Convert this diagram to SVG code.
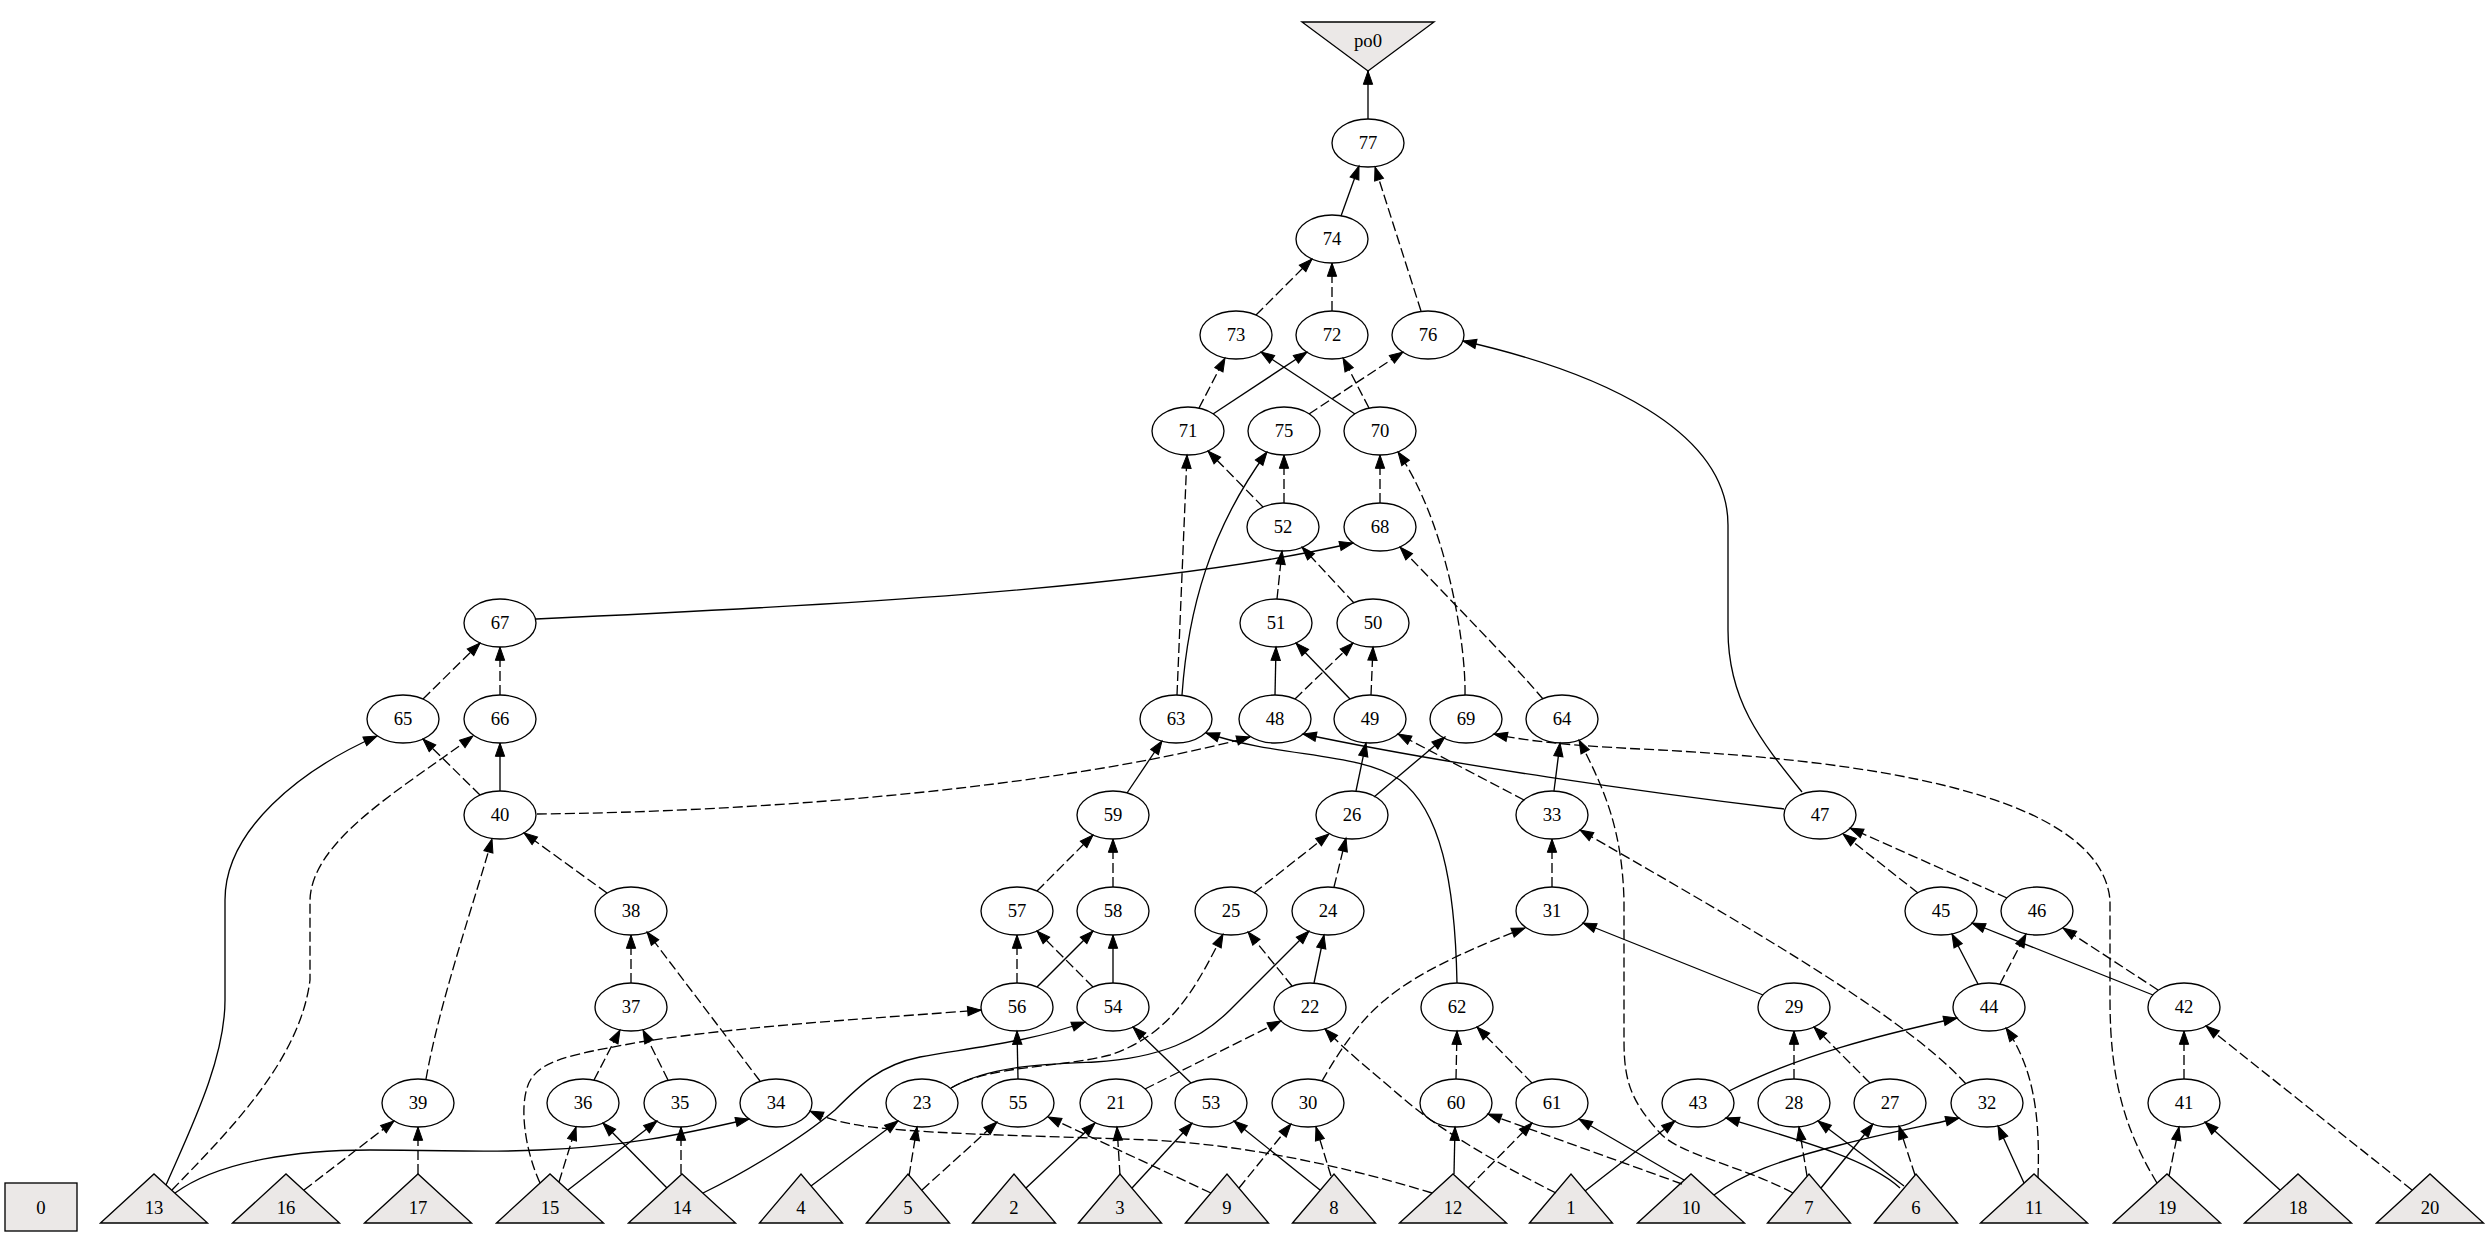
<svg xmlns="http://www.w3.org/2000/svg" width="2490" height="1245" viewBox="0 0 2490 1245">
<style>
.nd ellipse{fill:#fff;stroke:#000;stroke-width:1.33}
.pi polygon,.po polygon,.cz rect{fill:#ebe8e7;stroke:#000;stroke-width:1.33}
text{font-family:"Liberation Serif","Times New Roman",serif;font-size:18.67px;text-anchor:middle;fill:#000}
#edges path{fill:none;stroke:#000;stroke-width:1.33;marker-end:url(#ah)}
#edges path.d{stroke-dasharray:10,4}
</style>
<defs>
<marker id="ah" markerUnits="userSpaceOnUse" markerWidth="16" markerHeight="12" viewBox="-1 -1 16 12" refX="13.33" refY="4.67" orient="auto">
<path d="M0,0 L13.33,4.67 L0,9.33 z" fill="#000" stroke="#000" stroke-width="1"/>
</marker>
</defs>
<rect width="2490" height="1245" fill="#fff"/>
<g id="nodes">
<g id="n_po0" class="po"><polygon points="1302,22 1434,22 1368,71"/><text x="1368" y="47">po0</text></g>
<g id="n_0" class="cz"><rect x="5" y="1183" width="72" height="48"/><text x="41" y="1213.5">0</text></g>
<g id="n77" class="nd"><ellipse cx="1368" cy="143" rx="36" ry="24"/><text x="1368" y="149.3">77</text></g>
<g id="n74" class="nd"><ellipse cx="1332" cy="239" rx="36" ry="24"/><text x="1332" y="245.3">74</text></g>
<g id="n73" class="nd"><ellipse cx="1236" cy="335" rx="36" ry="24"/><text x="1236" y="341.3">73</text></g>
<g id="n72" class="nd"><ellipse cx="1332" cy="335" rx="36" ry="24"/><text x="1332" y="341.3">72</text></g>
<g id="n76" class="nd"><ellipse cx="1428" cy="335" rx="36" ry="24"/><text x="1428" y="341.3">76</text></g>
<g id="n71" class="nd"><ellipse cx="1188" cy="431" rx="36" ry="24"/><text x="1188" y="437.3">71</text></g>
<g id="n75" class="nd"><ellipse cx="1284" cy="431" rx="36" ry="24"/><text x="1284" y="437.3">75</text></g>
<g id="n70" class="nd"><ellipse cx="1380" cy="431" rx="36" ry="24"/><text x="1380" y="437.3">70</text></g>
<g id="n52" class="nd"><ellipse cx="1283" cy="527" rx="36" ry="24"/><text x="1283" y="533.3">52</text></g>
<g id="n68" class="nd"><ellipse cx="1380" cy="527" rx="36" ry="24"/><text x="1380" y="533.3">68</text></g>
<g id="n67" class="nd"><ellipse cx="500" cy="623" rx="36" ry="24"/><text x="500" y="629.3">67</text></g>
<g id="n51" class="nd"><ellipse cx="1276" cy="623" rx="36" ry="24"/><text x="1276" y="629.3">51</text></g>
<g id="n50" class="nd"><ellipse cx="1373" cy="623" rx="36" ry="24"/><text x="1373" y="629.3">50</text></g>
<g id="n65" class="nd"><ellipse cx="403" cy="719" rx="36" ry="24"/><text x="403" y="725.3">65</text></g>
<g id="n66" class="nd"><ellipse cx="500" cy="719" rx="36" ry="24"/><text x="500" y="725.3">66</text></g>
<g id="n63" class="nd"><ellipse cx="1176" cy="719" rx="36" ry="24"/><text x="1176" y="725.3">63</text></g>
<g id="n48" class="nd"><ellipse cx="1275" cy="719" rx="36" ry="24"/><text x="1275" y="725.3">48</text></g>
<g id="n49" class="nd"><ellipse cx="1370" cy="719" rx="36" ry="24"/><text x="1370" y="725.3">49</text></g>
<g id="n69" class="nd"><ellipse cx="1466" cy="719" rx="36" ry="24"/><text x="1466" y="725.3">69</text></g>
<g id="n64" class="nd"><ellipse cx="1562" cy="719" rx="36" ry="24"/><text x="1562" y="725.3">64</text></g>
<g id="n40" class="nd"><ellipse cx="500" cy="815" rx="36" ry="24"/><text x="500" y="821.3">40</text></g>
<g id="n59" class="nd"><ellipse cx="1113" cy="815" rx="36" ry="24"/><text x="1113" y="821.3">59</text></g>
<g id="n26" class="nd"><ellipse cx="1352" cy="815" rx="36" ry="24"/><text x="1352" y="821.3">26</text></g>
<g id="n33" class="nd"><ellipse cx="1552" cy="815" rx="36" ry="24"/><text x="1552" y="821.3">33</text></g>
<g id="n47" class="nd"><ellipse cx="1820" cy="815" rx="36" ry="24"/><text x="1820" y="821.3">47</text></g>
<g id="n38" class="nd"><ellipse cx="631" cy="911" rx="36" ry="24"/><text x="631" y="917.3">38</text></g>
<g id="n57" class="nd"><ellipse cx="1017" cy="911" rx="36" ry="24"/><text x="1017" y="917.3">57</text></g>
<g id="n58" class="nd"><ellipse cx="1113" cy="911" rx="36" ry="24"/><text x="1113" y="917.3">58</text></g>
<g id="n25" class="nd"><ellipse cx="1231" cy="911" rx="36" ry="24"/><text x="1231" y="917.3">25</text></g>
<g id="n24" class="nd"><ellipse cx="1328" cy="911" rx="36" ry="24"/><text x="1328" y="917.3">24</text></g>
<g id="n31" class="nd"><ellipse cx="1552" cy="911" rx="36" ry="24"/><text x="1552" y="917.3">31</text></g>
<g id="n45" class="nd"><ellipse cx="1941" cy="911" rx="36" ry="24"/><text x="1941" y="917.3">45</text></g>
<g id="n46" class="nd"><ellipse cx="2037" cy="911" rx="36" ry="24"/><text x="2037" y="917.3">46</text></g>
<g id="n37" class="nd"><ellipse cx="631" cy="1007" rx="36" ry="24"/><text x="631" y="1013.3">37</text></g>
<g id="n56" class="nd"><ellipse cx="1017" cy="1007" rx="36" ry="24"/><text x="1017" y="1013.3">56</text></g>
<g id="n54" class="nd"><ellipse cx="1113" cy="1007" rx="36" ry="24"/><text x="1113" y="1013.3">54</text></g>
<g id="n22" class="nd"><ellipse cx="1310" cy="1007" rx="36" ry="24"/><text x="1310" y="1013.3">22</text></g>
<g id="n62" class="nd"><ellipse cx="1457" cy="1007" rx="36" ry="24"/><text x="1457" y="1013.3">62</text></g>
<g id="n29" class="nd"><ellipse cx="1794" cy="1007" rx="36" ry="24"/><text x="1794" y="1013.3">29</text></g>
<g id="n44" class="nd"><ellipse cx="1989" cy="1007" rx="36" ry="24"/><text x="1989" y="1013.3">44</text></g>
<g id="n42" class="nd"><ellipse cx="2184" cy="1007" rx="36" ry="24"/><text x="2184" y="1013.3">42</text></g>
<g id="n39" class="nd"><ellipse cx="418" cy="1103" rx="36" ry="24"/><text x="418" y="1109.3">39</text></g>
<g id="n36" class="nd"><ellipse cx="583" cy="1103" rx="36" ry="24"/><text x="583" y="1109.3">36</text></g>
<g id="n35" class="nd"><ellipse cx="680" cy="1103" rx="36" ry="24"/><text x="680" y="1109.3">35</text></g>
<g id="n34" class="nd"><ellipse cx="776" cy="1103" rx="36" ry="24"/><text x="776" y="1109.3">34</text></g>
<g id="n23" class="nd"><ellipse cx="922" cy="1103" rx="36" ry="24"/><text x="922" y="1109.3">23</text></g>
<g id="n55" class="nd"><ellipse cx="1018" cy="1103" rx="36" ry="24"/><text x="1018" y="1109.3">55</text></g>
<g id="n21" class="nd"><ellipse cx="1116" cy="1103" rx="36" ry="24"/><text x="1116" y="1109.3">21</text></g>
<g id="n53" class="nd"><ellipse cx="1211" cy="1103" rx="36" ry="24"/><text x="1211" y="1109.3">53</text></g>
<g id="n30" class="nd"><ellipse cx="1308" cy="1103" rx="36" ry="24"/><text x="1308" y="1109.3">30</text></g>
<g id="n60" class="nd"><ellipse cx="1456" cy="1103" rx="36" ry="24"/><text x="1456" y="1109.3">60</text></g>
<g id="n61" class="nd"><ellipse cx="1552" cy="1103" rx="36" ry="24"/><text x="1552" y="1109.3">61</text></g>
<g id="n43" class="nd"><ellipse cx="1698" cy="1103" rx="36" ry="24"/><text x="1698" y="1109.3">43</text></g>
<g id="n28" class="nd"><ellipse cx="1794" cy="1103" rx="36" ry="24"/><text x="1794" y="1109.3">28</text></g>
<g id="n27" class="nd"><ellipse cx="1890" cy="1103" rx="36" ry="24"/><text x="1890" y="1109.3">27</text></g>
<g id="n32" class="nd"><ellipse cx="1987" cy="1103" rx="36" ry="24"/><text x="1987" y="1109.3">32</text></g>
<g id="n41" class="nd"><ellipse cx="2184" cy="1103" rx="36" ry="24"/><text x="2184" y="1109.3">41</text></g>
<g id="n13" class="pi"><polygon points="100.5,1223 154,1174 207.5,1223"/><text x="154" y="1213.5">13</text></g>
<g id="n16" class="pi"><polygon points="232.5,1223 286,1174 339.5,1223"/><text x="286" y="1213.5">16</text></g>
<g id="n17" class="pi"><polygon points="364.5,1223 418,1174 471.5,1223"/><text x="418" y="1213.5">17</text></g>
<g id="n15" class="pi"><polygon points="496.5,1223 550,1174 603.5,1223"/><text x="550" y="1213.5">15</text></g>
<g id="n14" class="pi"><polygon points="628.5,1223 682,1174 735.5,1223"/><text x="682" y="1213.5">14</text></g>
<g id="n4" class="pi"><polygon points="759.5,1223 801,1174 842.5,1223"/><text x="801" y="1213.5">4</text></g>
<g id="n5" class="pi"><polygon points="866.5,1223 908,1174 949.5,1223"/><text x="908" y="1213.5">5</text></g>
<g id="n2" class="pi"><polygon points="972.5,1223 1014,1174 1055.5,1223"/><text x="1014" y="1213.5">2</text></g>
<g id="n3" class="pi"><polygon points="1078.5,1223 1120,1174 1161.5,1223"/><text x="1120" y="1213.5">3</text></g>
<g id="n9" class="pi"><polygon points="1185.5,1223 1227,1174 1268.5,1223"/><text x="1227" y="1213.5">9</text></g>
<g id="n8" class="pi"><polygon points="1292.5,1223 1334,1174 1375.5,1223"/><text x="1334" y="1213.5">8</text></g>
<g id="n12" class="pi"><polygon points="1399.5,1223 1453,1174 1506.5,1223"/><text x="1453" y="1213.5">12</text></g>
<g id="n1" class="pi"><polygon points="1529.5,1223 1571,1174 1612.5,1223"/><text x="1571" y="1213.5">1</text></g>
<g id="n10" class="pi"><polygon points="1637.5,1223 1691,1174 1744.5,1223"/><text x="1691" y="1213.5">10</text></g>
<g id="n7" class="pi"><polygon points="1767.5,1223 1809,1174 1850.5,1223"/><text x="1809" y="1213.5">7</text></g>
<g id="n6" class="pi"><polygon points="1874.5,1223 1916,1174 1957.5,1223"/><text x="1916" y="1213.5">6</text></g>
<g id="n11" class="pi"><polygon points="1980.5,1223 2034,1174 2087.5,1223"/><text x="2034" y="1213.5">11</text></g>
<g id="n19" class="pi"><polygon points="2113.5,1223 2167,1174 2220.5,1223"/><text x="2167" y="1213.5">19</text></g>
<g id="n18" class="pi"><polygon points="2244.5,1223 2298,1174 2351.5,1223"/><text x="2298" y="1213.5">18</text></g>
<g id="n20" class="pi"><polygon points="2376.5,1223 2430,1174 2483.5,1223"/><text x="2430" y="1213.5">20</text></g>
</g>
<g id="edges">
<path d="M1368,119 L1368,71"/>
<path d="M1341,216 L1359,166"/>
<path class="d" d="M1421,311 L1375,167"/>
<path class="d" d="M1256,315 L1312,259"/>
<path class="d" d="M1332,311 L1332,263"/>
<path class="d" d="M1199,408 L1225,358"/>
<path d="M1213,414 L1307,352"/>
<path d="M1355,414 L1261,352"/>
<path class="d" d="M1369,408 L1343,358"/>
<path class="d" d="M1309,414 L1403,352"/>
<path d="M1802,792 C1760,740 1728,700 1728,630 L1728,525 C1728,430 1600,372 1463,341"/>
<path class="d" d="M1177,695 L1187,455"/>
<path class="d" d="M1263,507 L1208,451"/>
<path d="M1182,695 C1188,610 1210,530 1267,452"/>
<path class="d" d="M1284,503 L1284,455"/>
<path class="d" d="M1380,503 L1380,455"/>
<path class="d" d="M1465,695 C1466,640 1445,520 1398,452"/>
<path class="d" d="M1277,599 L1282,551"/>
<path class="d" d="M1354,603 L1302,547"/>
<path d="M536,619 C800,607 1150,590 1353,543"/>
<path class="d" d="M1543,699 C1510,660 1450,600 1400,547"/>
<path d="M1275,695 L1276,647"/>
<path d="M1350,699 L1296,643"/>
<path class="d" d="M1295,699 L1353,643"/>
<path class="d" d="M1371,695 L1373,647"/>
<path class="d" d="M423,699 L480,643"/>
<path class="d" d="M500,695 L500,647"/>
<path d="M166,1185 C190,1130 225,1060 225,1000 L225,900 C225,830 300,770 377,736"/>
<path class="d" d="M480,795 L423,739"/>
<path d="M500,791 L500,743"/>
<path class="d" d="M172,1190 C230,1130 300,1060 310,980 L310,900 C312,840 400,790 473,736"/>
<path d="M1127,793 L1162,741"/>
<path d="M1457,983 C1455,880 1440,810 1400,780 C1360,752 1280,758 1206,733"/>
<path class="d" d="M537,814 C750,812 1050,790 1250,737"/>
<path d="M1784,809 C1650,793 1450,765 1303,734"/>
<path d="M1356,791 L1366,743"/>
<path class="d" d="M1524,800 L1398,734"/>
<path d="M1374,797 L1445,737"/>
<path class="d" d="M2157,1183 C2125,1130 2110,1080 2110,1000 L2110,900 C2100,790 1850,760 1660,750 C1600,747 1540,744 1494,734"/>
<path d="M1554,791 L1560,743"/>
<path class="d" d="M1793,1193 C1740,1165 1680,1155 1660,1133 C1630,1100 1624,1080 1624,1040 L1624,900 C1622,830 1605,790 1579,740"/>
<path class="d" d="M607,893 L524,833"/>
<path class="d" d="M426,1079 C440,1000 475,900 492,839"/>
<path class="d" d="M1037,891 L1093,835"/>
<path class="d" d="M1113,887 L1113,839"/>
<path class="d" d="M1254,893 L1329,834"/>
<path class="d" d="M1334,887 L1346,838"/>
<path class="d" d="M1552,887 L1552,839"/>
<path class="d" d="M1966,1084 C1900,1010 1700,900 1580,830"/>
<path class="d" d="M1918,893 L1843,834"/>
<path class="d" d="M2007,898 L1850,828"/>
<path class="d" d="M631,983 L631,935"/>
<path class="d" d="M760,1081 L647,932"/>
<path class="d" d="M594,1080 L620,1030"/>
<path class="d" d="M668,1080 L643,1030"/>
<path class="d" d="M1017,983 L1017,935"/>
<path class="d" d="M1093,987 L1037,931"/>
<path d="M1037,987 L1093,931"/>
<path d="M1113,983 L1113,935"/>
<path class="d" d="M1292,986 L1248,932"/>
<path d="M1314,983 L1324,935"/>
<path class="d" d="M951,1088 C990,1065 1060,1068 1110,1055 C1170,1035 1195,990 1223,934"/>
<path d="M951,1088 C990,1065 1050,1064 1095,1062 C1160,1058 1200,1040 1230,1010 C1260,980 1285,955 1309,931"/>
<path d="M1763,995 L1583,923"/>
<path class="d" d="M1322,1081 C1340,1050 1360,1020 1385,1000 C1420,970 1480,945 1525,928"/>
<path d="M1978,984 L1952,934"/>
<path d="M2153,995 L1972,923"/>
<path class="d" d="M2000,984 L2026,934"/>
<path class="d" d="M2158,990 L2063,928"/>
<path class="d" d="M540,1183 C525,1150 520,1110 527,1088 C535,1060 570,1055 640,1042 C750,1025 880,1018 981,1010"/>
<path d="M1018,1079 L1017,1031"/>
<path d="M703,1193 C740,1175 800,1140 835,1110 C860,1085 880,1065 920,1057 C970,1048 1030,1042 1085,1022"/>
<path d="M1191,1083 L1133,1027"/>
<path class="d" d="M1145,1089 L1281,1021"/>
<path class="d" d="M1556,1193 C1500,1165 1440,1130 1405,1100 C1370,1070 1345,1050 1325,1029"/>
<path class="d" d="M1456,1079 L1457,1031"/>
<path class="d" d="M1532,1083 L1477,1027"/>
<path d="M1729,1091 C1800,1055 1880,1035 1957,1018"/>
<path class="d" d="M2038,1178 C2040,1120 2035,1070 2006,1028"/>
<path class="d" d="M1794,1079 L1794,1031"/>
<path class="d" d="M1870,1083 L1814,1027"/>
<path class="d" d="M2184,1079 L2184,1031"/>
<path class="d" d="M2412,1190 L2206,1026"/>
<path class="d" d="M304,1190 L394,1121"/>
<path class="d" d="M418,1174 L418,1127"/>
<path class="d" d="M559,1182 L576,1127"/>
<path d="M667,1188 L603,1123"/>
<path d="M568,1190 L657,1121"/>
<path class="d" d="M681,1174 L681,1127"/>
<path d="M175,1193 C220,1160 300,1150 370,1150 C450,1150 480,1153 540,1150 C620,1147 680,1135 749,1119"/>
<path class="d" d="M1432,1193 C1350,1168 1250,1145 1150,1140 C1050,1136 950,1135 880,1128 C850,1125 830,1120 810,1111"/>
<path d="M811,1186 L898,1121"/>
<path class="d" d="M909,1176 L917,1127"/>
<path class="d" d="M922,1190 L997,1122"/>
<path class="d" d="M1211,1193 L1048,1117"/>
<path d="M1026,1188 L1095,1123"/>
<path class="d" d="M1120,1175 L1117,1127"/>
<path d="M1132,1188 L1192,1123"/>
<path d="M1320,1190 L1234,1121"/>
<path class="d" d="M1239,1188 L1291,1124"/>
<path class="d" d="M1331,1176 L1316,1127"/>
<path d="M1454,1174 L1455,1127"/>
<path class="d" d="M1468,1188 L1532,1123"/>
<path class="d" d="M1682,1184 L1488,1114"/>
<path d="M1684,1180 L1579,1119"/>
<path d="M1585,1191 L1675,1121"/>
<path d="M1900,1188 C1870,1160 1800,1140 1726,1118"/>
<path d="M1904,1186 L1818,1121"/>
<path class="d" d="M1807,1176 L1799,1127"/>
<path d="M1821,1188 L1873,1124"/>
<path class="d" d="M1915,1175 L1899,1126"/>
<path d="M1714,1195 C1740,1175 1780,1160 1840,1145 C1890,1132 1930,1125 1959,1118"/>
<path d="M2024,1183 L1998,1126"/>
<path class="d" d="M2169,1176 L2179,1127"/>
<path d="M2280,1190 L2205,1122"/>
</g>
</svg>
